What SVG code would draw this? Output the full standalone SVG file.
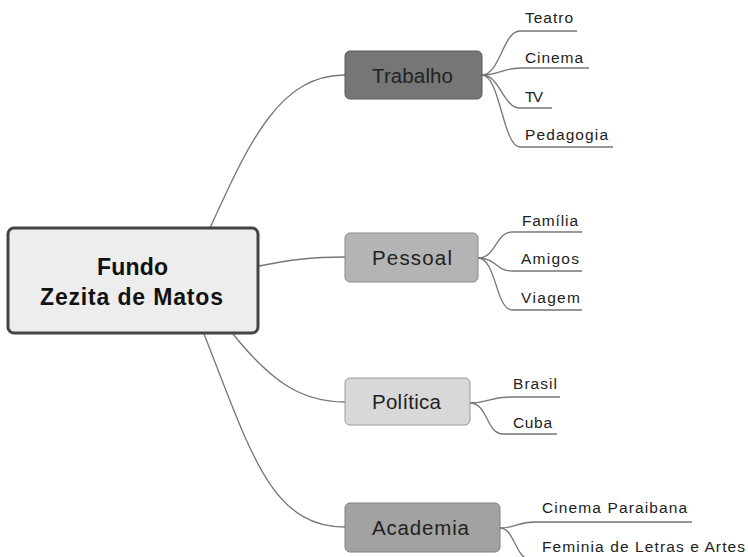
<svg xmlns="http://www.w3.org/2000/svg" width="748" height="557" viewBox="0 0 748 557">
<style>
.c{fill:none;stroke:#767676;stroke-width:1.3}
.lf{font-family:"Liberation Sans",Arial,sans-serif;font-size:15.5px;fill:#222}
.bx{font-family:"Liberation Sans",Arial,sans-serif;font-size:20.5px;fill:#222;text-anchor:start}
.ct{font-family:"Liberation Sans",Arial,sans-serif;font-size:23px;font-weight:bold;fill:#111}
</style>
<rect width="748" height="557" fill="#fff"/>
<g id="connectors">
<path class="c" d="M210,228 C250,140 280,75 345,75"/>
<path class="c" d="M259,266 C290,260 310,257 345,257"/>
<path class="c" d="M233,334 C270,380 300,402 345,402"/>
<path class="c" d="M204,334 C250,450 270,527 345,527"/>
<path class="c" d="M482,75 C500,75 503,31 520,31 H577"/>
<path class="c" d="M482,75 C500,75 503,68 520,68 H589"/>
<path class="c" d="M482,75 C500,75 503,108 520,108 H552"/>
<path class="c" d="M482,75 C500,75 503,147 520,147 H613"/>
<path class="c" d="M478,258 C496,258 496,232 512,232 H582"/>
<path class="c" d="M478,258 C496,258 496,271 512,271 H582"/>
<path class="c" d="M478,258 C496,258 496,310 512,310 H582"/>
<path class="c" d="M470,403 C488,403 490,397 510,397 H560"/>
<path class="c" d="M470,403 C488,403 486,434 503,434 H557"/>
<path class="c" d="M500,528 C515,528 518,522 535,522 H692"/>
<path class="c" d="M500,528 C515,528 515,560 532,560 H745"/>
</g>
<g id="center">
<rect x="8" y="228" width="250" height="105" rx="6" fill="#ededed" stroke="#444" stroke-width="3"/>
<text class="ct" x="97" y="275" textLength="71" lengthAdjust="spacing">Fundo</text>
<text class="ct" x="40" y="305" textLength="183" lengthAdjust="spacing">Zezita de Matos</text>
</g>
<g id="trabalho">
<rect x="345" y="51" width="137" height="48" rx="5" fill="#767676" stroke="#5a5a5a" stroke-width="1"/>
<text class="bx" x="372" y="83" textLength="81" lengthAdjust="spacing">Trabalho</text>
</g>
<g id="pessoal">
<rect x="345" y="233" width="133" height="49" rx="5" fill="#b4b4b4" stroke="#888" stroke-width="1"/>
<text class="bx" x="372" y="265" textLength="80" lengthAdjust="spacing">Pessoal</text>
</g>
<g id="politica">
<rect x="345" y="378" width="125" height="47" rx="5" fill="#d8d8d8" stroke="#999" stroke-width="1"/>
<text class="bx" x="372" y="409" textLength="69" lengthAdjust="spacing">Política</text>
</g>
<g id="academia">
<rect x="345" y="503" width="155" height="49" rx="5" fill="#a2a2a2" stroke="#808080" stroke-width="1"/>
<text class="bx" x="372" y="535" textLength="97" lengthAdjust="spacing">Academia</text>
</g>
<g id="leaves">
<text class="lf" x="525" y="23" textLength="48" lengthAdjust="spacing">Teatro</text>
<text class="lf" x="525" y="63" textLength="58" lengthAdjust="spacing">Cinema</text>
<text class="lf" x="525" y="102" textLength="18" lengthAdjust="spacing">TV</text>
<text class="lf" x="525" y="140" textLength="83" lengthAdjust="spacing">Pedagogia</text>
<text class="lf" x="522" y="226" textLength="56" lengthAdjust="spacing">Família</text>
<text class="lf" x="521" y="264" textLength="58" lengthAdjust="spacing">Amigos</text>
<text class="lf" x="521" y="303" textLength="59" lengthAdjust="spacing">Viagem</text>
<text class="lf" x="513" y="389" textLength="44" lengthAdjust="spacing">Brasil</text>
<text class="lf" x="513" y="428" textLength="39" lengthAdjust="spacing">Cuba</text>
<text class="lf" x="542" y="513" textLength="145" lengthAdjust="spacing">Cinema Paraibana</text>
<text class="lf" x="542" y="552" textLength="203" lengthAdjust="spacing">Feminia de Letras e Artes</text>
</g>
</svg>
